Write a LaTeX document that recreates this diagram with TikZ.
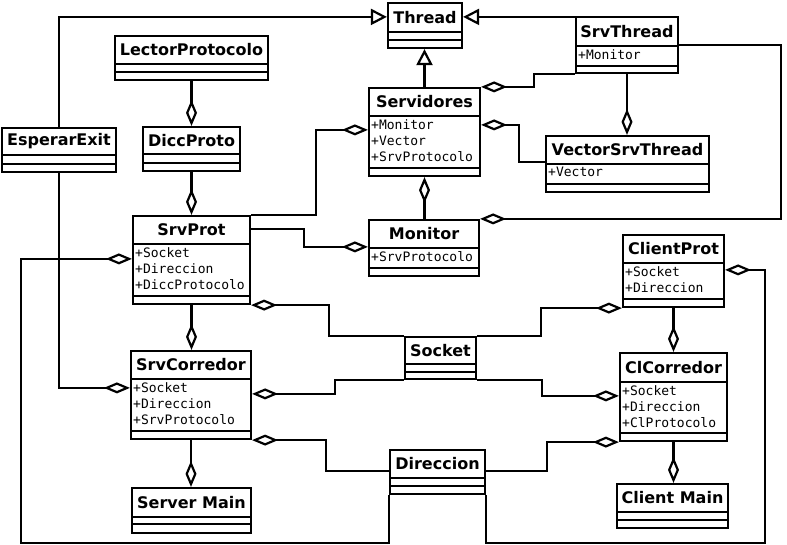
\documentclass[tikz,border=0pt]{standalone}
\usepackage{fontspec}
\setmainfont{DejaVu Sans}
\setmonofont{DejaVu Sans Mono}
\usetikzlibrary{arrows.meta,fit,calc}
\tikzset{
  ln/.style={line width=2.2pt},
  cls/.style={ln, draw, inner sep=0pt, fill=white},
  ttl/.style={inner sep=0pt, font=\bfseries\fontsize{16}{19}\selectfont},
  attr/.style={inner sep=1pt, align=left, font=\ttfamily\fontsize{13}{16.2}\selectfont},
  agg/.style={ln, -{Diamond[open,length=26pt,width=11pt]}},
  aggs/.style={ln, {Diamond[open,length=26pt,width=11pt]}-},
  inh/.style={ln, -{Triangle[open,length=16pt,width=16pt]}}
}
\newcommand\umlcls[8]{%
  \node[cls, fit={(#2,#3) (#4,#5)}] (#1) {};
  \draw[ln] (#2,#6) -- (#4,#6) (#2,#7) -- (#4,#7);
  \node[ttl] (#1-t) at ($(#2,#3)!0.5!(#4,#6)$) {#8};
}
\newcommand\umlattr[4]{%
  \node[attr, anchor=north west] (#1-a) at (#2,#3) {#4};
}
\begin{document}
\begin{tikzpicture}[x=1pt,y=-1pt]
\useasboundingbox[fill=white] (0,0) rectangle (787,545);
% classes
\umlcls{thread}{388}{3}{462}{48}{32}{40}{Thread}
\umlcls{srvthread}{576}{17}{678}{73}{46}{66}{SrvThread}
\umlattr{srvthread}{577}{48}{+Monitor}
\umlcls{lector}{115}{36}{268}{80}{64}{72}{LectorProtocolo}
\umlcls{esperar}{2}{128}{116}{172}{155}{164}{EsperarExit}
\umlcls{dicc}{143}{127}{240}{171}{154}{163}{DiccProto}
\umlcls{servidores}{369}{88}{480}{176}{116}{168}{Servidores}
\umlattr{servidores}{370}{118}{+Monitor\\+Vector\\+SrvProtocolo}
\umlcls{vector}{546}{136}{709}{192}{164}{184}{VectorSrvThread}
\umlattr{vector}{547}{166}{+Vector}
\umlcls{srvprot}{133}{216}{250}{304}{244}{296}{SrvProt}
\umlattr{srvprot}{134}{246}{+Socket\\+Direccion\\+DiccProtocolo}
\umlcls{monitor}{369}{220}{479}{276}{248}{268}{Monitor}
\umlattr{monitor}{370}{250}{+SrvProtocolo}
\umlcls{clientprot}{623}{235}{724}{307}{263}{299}{ClientProt}
\umlattr{clientprot}{624}{265}{+Socket\\+Direccion}
\umlcls{socket}{405}{337}{476}{379}{364}{372}{Socket}
\umlcls{srvcorr}{131}{351}{251}{439}{379}{431}{SrvCorredor}
\umlattr{srvcorr}{132}{381}{+Socket\\+Direccion\\+SrvProtocolo}
\umlcls{clcorr}{620}{353}{727}{441}{382}{433}{ClCorredor}
\umlattr{clcorr}{621}{384}{+Socket\\+Direccion\\+ClProtocolo}
\umlcls{direccion}{390}{450}{485}{494}{478}{486}{Direccion}
\umlcls{servermain}{132}{488}{251}{533}{517}{524}{Server Main}
\umlcls{clientmain}{617}{484}{728}{528}{512}{520}{Client Main}
% inheritance
\coordinate (stx) at ($(srvthread.north west)+(0,1)$);
\draw[inh] (esperar.north) |- ($(thread.north west)+(0,15)$);
\draw[inh] (stx) -- (stx -| thread.east);
\draw[inh] (servidores.north) -- (servidores.north |- thread.south);
% aggregations
\draw[agg] (lector.south) -- (lector.south |- dicc.north);
\draw[agg] (dicc.south) -- (dicc.south |- srvprot.north);
\draw[agg] (srvprot.north east) -- ++(65,0) |- ($(servidores.north west)+(0,43)$);
\draw[agg] (srvthread.south west) -- ++(-41,0) |- (servidores.north east);
\draw[agg] (srvthread.south) -- (srvthread.south |- vector.north);
\draw[agg] ($(vector.north west)+(0,27)$) -- ++(-26,0) |- ($(servidores.north east)+(0,38)$);
\draw[agg] ($(srvthread.north east)+(0,29)$) -- ++(102,0) |- (monitor.north east);
\draw[aggs] (servidores.south) -- (servidores.south |- monitor.north);
\draw[agg] ($(srvprot.north east)+(0,14)$) -- ++(53,0) |- ($(monitor.north west)+(0,28)$);
\draw[agg] (srvprot.south) -- (srvprot.south |- srvcorr.north);
\draw[agg] (srvcorr.south) -- (srvcorr.south |- servermain.north);
\draw[agg] (esperar.south) |- ($(srvcorr.north west)+(0,38)$);
\draw[agg] (direccion.south west) -- ++(0,48) -- ++(-368,0) |- ($(srvprot.north west)+(0,44)$);
\draw[agg] (direccion.south east) -- ++(0,48) -- ++(279,0) |- ($(clientprot.north east)+(0,36)$);
\draw[aggs] (srvprot.south east) -- ++(78,0) |- (socket.north west);
\draw[aggs] (clientprot.south west) -- ++(-81,0) |- (socket.north east);
\draw[agg] (socket.south west) -- ++(-69,0) |- ($(srvcorr.north east)+(0,44)$);
\draw[agg] (socket.south east) -- ++(65,0) |- ($(clcorr.north west)+(0,44)$);
\draw[agg] ($(direccion.north west)+(0,22)$) -- ++(-63,0) |- (srvcorr.south east);
\draw[agg] ($(direccion.north east)+(0,22)$) -- ++(61,0) |- (clcorr.south west);
\draw[agg] (clientprot.south) -- (clientprot.south |- clcorr.north);
\draw[agg] (clcorr.south) -- (clcorr.south |- clientmain.north);
\end{tikzpicture}
\end{document}
